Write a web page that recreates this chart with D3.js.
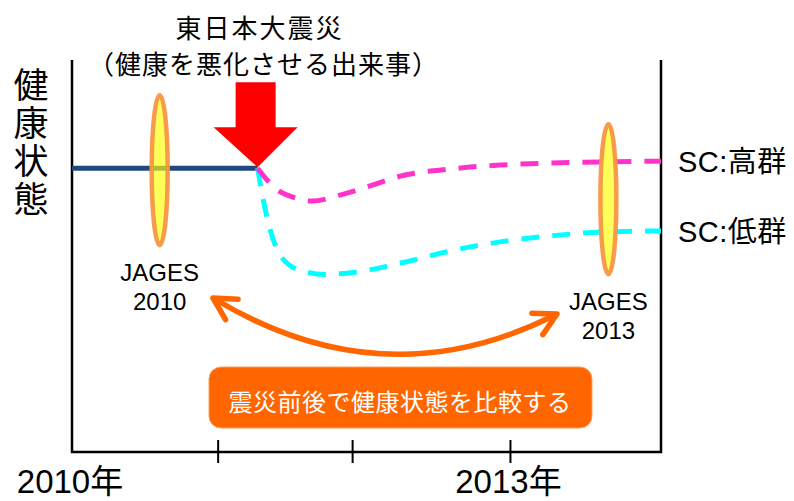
<!DOCTYPE html>
<html>
<head>
<meta charset="utf-8">
<script src="https://cdn.jsdelivr.net/npm/d3@7"></script>
<style>
body { margin: 0; background: #fff; }
svg { display: block; font-family: "Liberation Sans", "Noto Sans CJK JP", sans-serif; }
.jp { font-family: "Noto Sans CJK JP", sans-serif; }
</style>
</head>
<body>
<div id="chart"></div>
<script>
// health status (0-100) against time in years
var baseYears = [2010, 2011.27];
var baseValues = [72.4, 72.4];
var highYears = [2011.27, 2011.39, 2011.53, 2011.64, 2011.84, 2012.04, 2012.25, 2012.59, 2012.93, 2013.27, 2013.62, 2014.03];
var highValues = [72.4, 67.3, 64.8, 64.0, 65.6, 67.9, 70.4, 72.2, 73.2, 73.7, 74.0, 74.2];
var lowYears = [2011.27, 2011.30, 2011.35, 2011.42, 2011.55, 2011.73, 2011.96, 2012.25, 2012.59, 2012.93, 2013.27, 2013.62, 2014.03];
var lowValues = [72.4, 66.0, 57.5, 50.5, 46.5, 45.3, 46.0, 48.2, 51.3, 53.6, 55.1, 56.1, 56.4];
var seriesNames = ["SC:高群", "SC:低群"];
var tickYears = [2011, 2011.92, 2013];
var labelYears = [2010, 2013];
var labelTexts = ["2010年", "2013年"];
var surveyYears = [2010.60, 2013.67];
var surveyCenters = [71.9, 64.5];
var surveyNames = [["JAGES", "2010"], ["JAGES", "2013"]];
var quakeYear = 2011.27;

var width = 794, height = 501;
var margin = { top: 60, right: 133, bottom: 49, left: 72 };

var svg = d3.select("#chart").append("svg")
    .attr("width", width)
    .attr("height", height);

var x = d3.scaleLinear()
    .domain([2010, 2014.03])
    .range([margin.left, width - margin.right]);
var y = d3.scaleLinear()
    .domain([0, 100])
    .range([height - margin.bottom, margin.top]);

var line = d3.line()
    .x(function(d) { return x(d[0]); })
    .y(function(d) { return y(d[1]); })
    .curve(d3.curveMonotoneX);

function pairs(xs, ys) {
    return xs.map(function(v, i) { return [v, ys[i]]; });
}

// frame: left, bottom, right
var x0 = x.range()[0], x1 = x.range()[1], yb = y.range()[0], yt = y.range()[1];
svg.append("path")
    .attr("d", "M" + x0 + "," + yt + "V" + yb + "H" + x1 + "V" + yt)
    .attr("fill", "none")
    .attr("stroke", "#000")
    .attr("stroke-width", 2.5);

svg.append("g").selectAll("line")
    .data(tickYears)
    .enter().append("line")
    .attr("x1", function(d) { return x(d); })
    .attr("x2", function(d) { return x(d); })
    .attr("y1", yb - 12)
    .attr("y2", yb + 11)
    .attr("stroke", "#000")
    .attr("stroke-width", 2);

svg.append("g").selectAll("text")
    .data(labelYears)
    .enter().append("text")
    .attr("x", function(d) { return x(d) - 2; })
    .attr("y", 493)
    .attr("text-anchor", "middle")
    .attr("font-size", 33)
    .attr("fill", "#000")
    .text(function(d, i) { return labelTexts[i]; });

// y label, vertical
svg.append("text")
    .attr("class", "jp")
    .attr("x", 31)
    .attr("y", 67)
    .attr("writing-mode", "vertical-rl")
    .attr("letter-spacing", 3)
    .attr("font-size", 35)
    .attr("fill", "#000")
    .text("健康状態");

// lines
svg.append("path")
    .attr("d", line(pairs(baseYears, baseValues)))
    .attr("fill", "none")
    .attr("stroke", "#1F497D")
    .attr("stroke-width", 5);

svg.append("path")
    .attr("d", line(pairs(lowYears, lowValues)))
    .attr("fill", "none")
    .attr("stroke", "#00FFFF")
    .attr("stroke-width", 5)
    .attr("stroke-dasharray", "18,13");

svg.append("path")
    .attr("d", line(pairs(highYears, highValues)))
    .attr("fill", "none")
    .attr("stroke", "#FF33CC")
    .attr("stroke-width", 5)
    .attr("stroke-dasharray", "18,13");

// series labels
svg.append("g").selectAll("text")
    .data(seriesNames)
    .enter().append("text")
    .attr("x", x1 + 17)
    .attr("y", function(d, i) { return y(i == 0 ? highValues[highValues.length - 1] : lowValues[lowValues.length - 1]) + 11; })
    .attr("font-size", 29)
    .attr("letter-spacing", 0.5)
    .attr("fill", "#000")
    .text(function(d) { return d; });

// survey ellipses
svg.append("g").selectAll("ellipse")
    .data(surveyYears)
    .enter().append("ellipse")
    .attr("cx", function(d) { return x(d); })
    .attr("cy", function(d, i) { return y(surveyCenters[i]); })
    .attr("rx", 8)
    .attr("ry", 75)
    .attr("fill", "rgba(255,255,0,0.65)")
    .attr("stroke", "rgba(247,150,70,0.95)")
    .attr("stroke-width", 4.5);

var survLabels = svg.append("g").selectAll("text")
    .data(surveyYears)
    .enter().append("text")
    .attr("text-anchor", "middle")
    .attr("font-size", 24)
    .attr("fill", "#000");
survLabels.each(function(d, i) {
    var base = y(surveyCenters[i]) + 75 + 36;
    d3.select(this).selectAll("tspan")
        .data(surveyNames[i])
        .enter().append("tspan")
        .attr("x", x(d))
        .attr("y", function(t, j) { return base + j * 29; })
        .text(function(t) { return t; });
});

// earthquake arrow, tip at the break point
var tx = x(quakeYear), ty = y(baseValues[1]);
svg.append("polygon")
    .attr("points", [
        [tx - 22, ty - 86], [tx + 18, ty - 86], [tx + 18, ty - 41], [tx + 40, ty - 41],
        [tx, ty - 1], [tx - 44, ty - 41], [tx - 22, ty - 41]
    ].join(" "))
    .attr("fill", "#FF0000");

svg.append("text")
    .attr("class", "jp")
    .attr("x", tx + 2)
    .attr("y", 38)
    .attr("text-anchor", "middle")
    .attr("font-size", 26)
    .attr("letter-spacing", 2)
    .attr("fill", "#000")
    .text("東日本大震災");
svg.append("text")
    .attr("class", "jp")
    .attr("x", tx + 6)
    .attr("y", 74)
    .attr("text-anchor", "middle")
    .attr("font-size", 26)
    .attr("letter-spacing", 1)
    .attr("fill", "#000")
    .text("（健康を悪化させる出来事）");

// double headed comparison arrow
var defs = svg.append("defs");
defs.append("marker")
    .attr("id", "chev")
    .attr("markerUnits", "userSpaceOnUse")
    .attr("viewBox", "-30 -16 34 32")
    .attr("markerWidth", 34)
    .attr("markerHeight", 32)
    .attr("refX", 0)
    .attr("refY", 0)
    .attr("orient", "auto-start-reverse")
    .append("path")
    .attr("d", "M-22,-12L0,0L-22,12")
    .attr("fill", "none")
    .attr("stroke", "#FF6600")
    .attr("stroke-width", 5.5)
    .attr("stroke-linecap", "round")
    .attr("stroke-linejoin", "round");

var sx = 213, sy = 298, ex = 557, ey = 314;
svg.append("path")
    .attr("d", "M" + sx + "," + sy + "Q" + 384 + "," + 402 + " " + ex + "," + ey)
    .attr("fill", "none")
    .attr("stroke", "#FF6600")
    .attr("stroke-width", 5.5)
    .attr("marker-start", "url(#chev)")
    .attr("marker-end", "url(#chev)");

// note box
svg.append("rect")
    .attr("x", 209)
    .attr("y", 367)
    .attr("width", 383)
    .attr("height", 61)
    .attr("rx", 12)
    .attr("fill", "#FF6600")
    .attr("stroke", "#F9A05A")
    .attr("stroke-width", 1);
svg.append("text")
    .attr("class", "jp")
    .attr("x", 400)
    .attr("y", 411)
    .attr("text-anchor", "middle")
    .attr("font-size", 24)
    .attr("letter-spacing", 0.5)
    .attr("fill", "#fff")
    .text("震災前後で健康状態を比較する");
</script>
</body>
</html>
